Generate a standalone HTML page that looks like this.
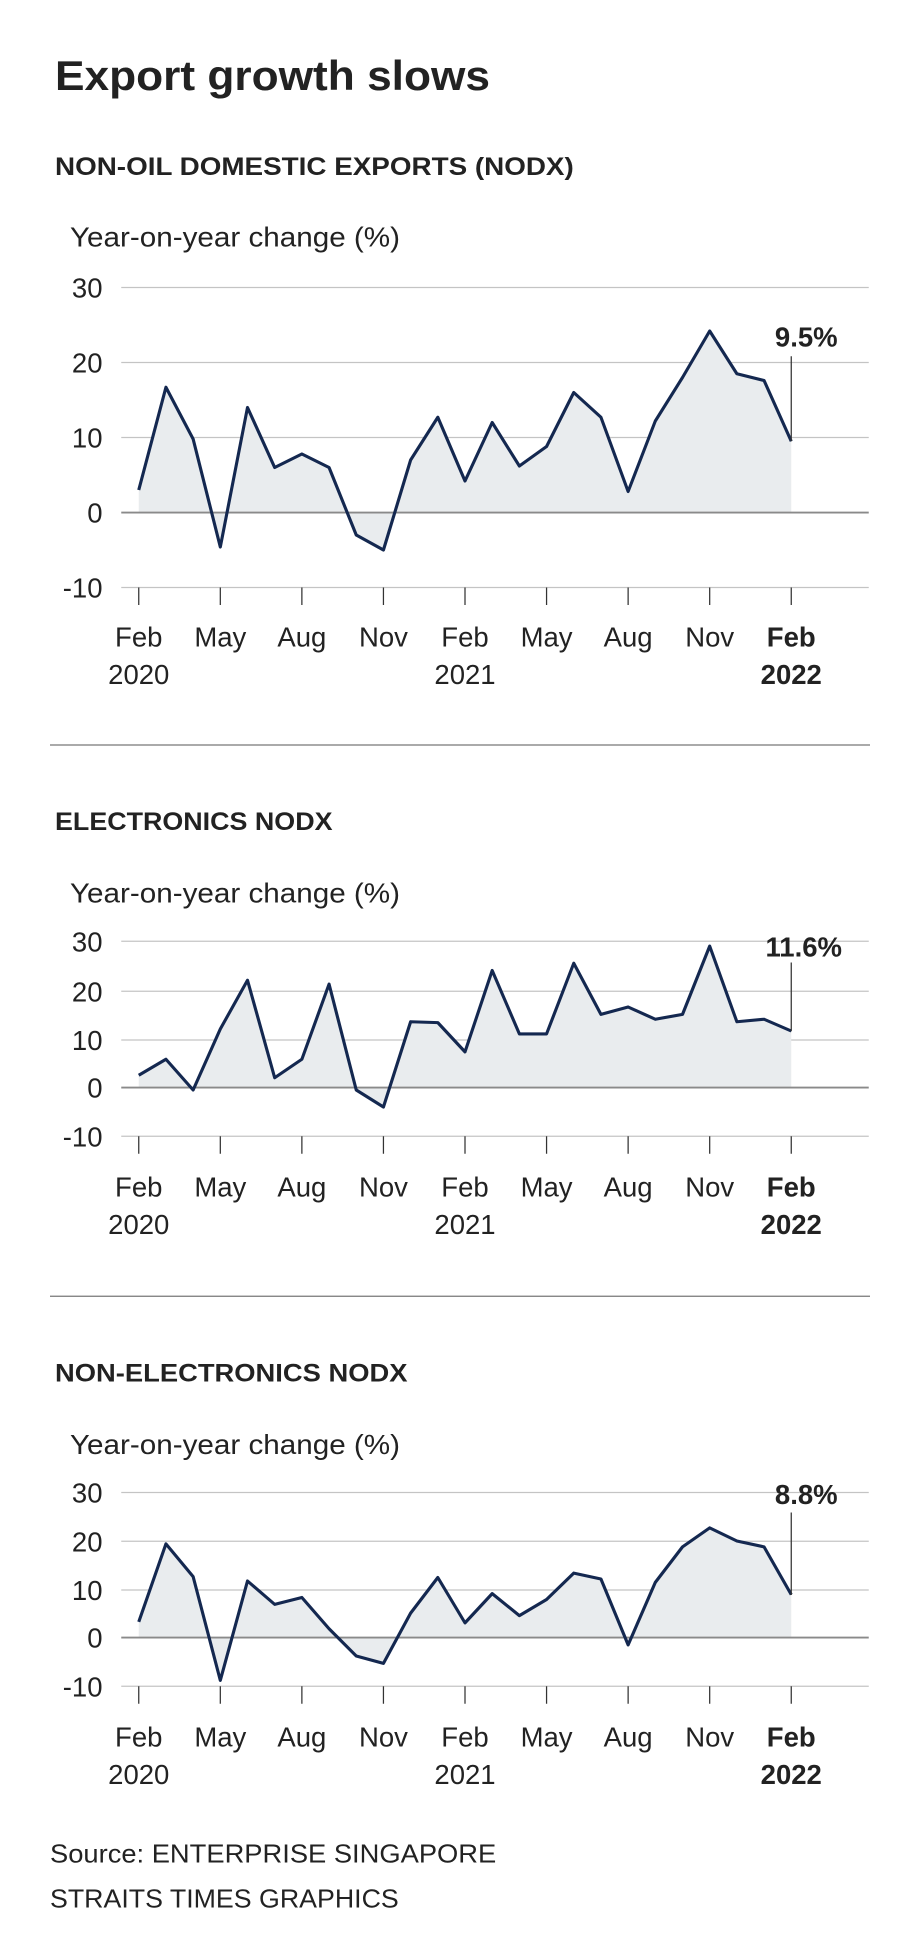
<!DOCTYPE html>
<html><head><meta charset="utf-8"><style>
html,body{margin:0;padding:0;background:#fff;}
svg{display:block;}
text{font-family:"Liberation Sans",sans-serif;fill:#222;}
</style></head><body>
<svg width="920" height="1960" viewBox="0 0 736 1568" xmlns="http://www.w3.org/2000/svg">
<rect width="736" height="1568" fill="#fff"/>
<text x="44" y="72" font-size="33" font-weight="bold" textLength="348" lengthAdjust="spacingAndGlyphs">Export growth slows</text>

<!-- Chart 1 -->
<text x="44" y="140" font-size="20" font-weight="bold" textLength="415" lengthAdjust="spacingAndGlyphs">NON-OIL DOMESTIC EXPORTS (NODX)</text>
<text x="56" y="197" font-size="22" textLength="264" lengthAdjust="spacingAndGlyphs">Year-on-year change (%)</text>
<g stroke="#c4c4c4" stroke-width="1">
<line x1="97" x2="695" y1="230" y2="230"/><line x1="97" x2="695" y1="290" y2="290"/><line x1="97" x2="695" y1="350" y2="350"/><line x1="97" x2="695" y1="470" y2="470"/>
</g>
<g font-size="22" text-anchor="end"><text x="82" y="238">30</text><text x="82" y="298">20</text><text x="82" y="358">10</text><text x="82" y="418">0</text><text x="82" y="478">-10</text></g>
<polygon fill="#e9ecee" points="111,410 111,392 132.75,309.8 154.5,351.2 176.25,437.6 198,326 219.75,374 241.5,363.2 263.25,374 285,428 306.75,440 328.5,368 350.25,333.8 372,384.8 393.75,338 415.5,372.8 437.25,357.2 459,314 480.75,333.8 502.5,393.2 524.25,336.8 546,302 567.75,264.8 589.5,299 611.25,304.4 633,353 633,410"/>
<line x1="97" x2="695" y1="410" y2="410" stroke="#8a8a8a" stroke-width="1.5"/>
<polyline fill="none" stroke="#142850" stroke-width="2.5" stroke-linejoin="round" points="111,392 132.75,309.8 154.5,351.2 176.25,437.6 198,326 219.75,374 241.5,363.2 263.25,374 285,428 306.75,440 328.5,368 350.25,333.8 372,384.8 393.75,338 415.5,372.8 437.25,357.2 459,314 480.75,333.8 502.5,393.2 524.25,336.8 546,302 567.75,264.8 589.5,299 611.25,304.4 633,353"/>
<line x1="633" x2="633" y1="353" y2="285" stroke="#333" stroke-width="1"/>
<text x="645" y="277" font-size="22" font-weight="bold" text-anchor="middle">9.5%</text>
<g stroke="#333" stroke-width="1"><line x1="111" x2="111" y1="470" y2="484"/><line x1="176.25" x2="176.25" y1="470" y2="484"/><line x1="241.5" x2="241.5" y1="470" y2="484"/><line x1="306.75" x2="306.75" y1="470" y2="484"/><line x1="372" x2="372" y1="470" y2="484"/><line x1="437.25" x2="437.25" y1="470" y2="484"/><line x1="502.5" x2="502.5" y1="470" y2="484"/><line x1="567.75" x2="567.75" y1="470" y2="484"/><line x1="633" x2="633" y1="470" y2="484"/></g>
<g font-size="22" text-anchor="middle"><text x="111" y="517">Feb</text><text x="111" y="547">2020</text><text x="176.25" y="517">May</text><text x="241.5" y="517">Aug</text><text x="306.75" y="517">Nov</text><text x="372" y="517">Feb</text><text x="372" y="547">2021</text><text x="437.25" y="517">May</text><text x="502.5" y="517">Aug</text><text x="567.75" y="517">Nov</text><text x="633" y="517" font-weight="bold">Feb</text><text x="633" y="547" font-weight="bold">2022</text></g>
<line x1="40" x2="696" y1="596" y2="596" stroke="#777" stroke-width="1"/>

<!-- Chart 2 -->
<text x="44" y="664" font-size="20" font-weight="bold" textLength="222" lengthAdjust="spacingAndGlyphs">ELECTRONICS NODX</text>
<text x="56" y="722" font-size="22" textLength="264" lengthAdjust="spacingAndGlyphs">Year-on-year change (%)</text>
<g stroke="#c4c4c4" stroke-width="1">
<line x1="97" x2="695" y1="753" y2="753"/><line x1="97" x2="695" y1="793" y2="793"/><line x1="97" x2="695" y1="832" y2="832"/><line x1="97" x2="695" y1="909" y2="909"/>
</g>
<g font-size="22" text-anchor="end"><text x="82" y="761">30</text><text x="82" y="801">20</text><text x="82" y="840">10</text><text x="82" y="878">0</text><text x="82" y="917">-10</text></g>
<polygon fill="#e9ecee" points="111,870 111,860.2 132.75,847.4 154.5,872 176.25,823.2 198,784.2 219.75,862.2 241.5,847.4 263.25,787.3 285,872 306.75,885.6 328.5,817.4 350.25,818.1 372,841.5 393.75,776.4 415.5,827.1 437.25,827.1 459,770.6 480.75,811.5 502.5,805.6 524.25,815.4 546,811.5 567.75,756.9 589.5,817.4 611.25,815.4 633,824.8 633,870"/>
<line x1="97" x2="695" y1="870" y2="870" stroke="#8a8a8a" stroke-width="1.5"/>
<polyline fill="none" stroke="#142850" stroke-width="2.5" stroke-linejoin="round" points="111,860.2 132.75,847.4 154.5,872 176.25,823.2 198,784.2 219.75,862.2 241.5,847.4 263.25,787.3 285,872 306.75,885.6 328.5,817.4 350.25,818.1 372,841.5 393.75,776.4 415.5,827.1 437.25,827.1 459,770.6 480.75,811.5 502.5,805.6 524.25,815.4 546,811.5 567.75,756.9 589.5,817.4 611.25,815.4 633,824.8"/>
<line x1="633" x2="633" y1="825" y2="770" stroke="#333" stroke-width="1"/>
<text x="643" y="765" font-size="22" font-weight="bold" text-anchor="middle">11.6%</text>
<g stroke="#333" stroke-width="1"><line x1="111" x2="111" y1="909" y2="923"/><line x1="176.25" x2="176.25" y1="909" y2="923"/><line x1="241.5" x2="241.5" y1="909" y2="923"/><line x1="306.75" x2="306.75" y1="909" y2="923"/><line x1="372" x2="372" y1="909" y2="923"/><line x1="437.25" x2="437.25" y1="909" y2="923"/><line x1="502.5" x2="502.5" y1="909" y2="923"/><line x1="567.75" x2="567.75" y1="909" y2="923"/><line x1="633" x2="633" y1="909" y2="923"/></g>
<g font-size="22" text-anchor="middle"><text x="111" y="957">Feb</text><text x="111" y="987">2020</text><text x="176.25" y="957">May</text><text x="241.5" y="957">Aug</text><text x="306.75" y="957">Nov</text><text x="372" y="957">Feb</text><text x="372" y="987">2021</text><text x="437.25" y="957">May</text><text x="502.5" y="957">Aug</text><text x="567.75" y="957">Nov</text><text x="633" y="957" font-weight="bold">Feb</text><text x="633" y="987" font-weight="bold">2022</text></g>
<line x1="40" x2="696" y1="1037" y2="1037" stroke="#777" stroke-width="1"/>

<!-- Chart 3 -->
<text x="44" y="1105" font-size="20" font-weight="bold" textLength="282" lengthAdjust="spacingAndGlyphs">NON-ELECTRONICS NODX</text>
<text x="56" y="1163" font-size="22" textLength="264" lengthAdjust="spacingAndGlyphs">Year-on-year change (%)</text>
<g stroke="#c4c4c4" stroke-width="1">
<line x1="97" x2="695" y1="1194" y2="1194"/><line x1="97" x2="695" y1="1233" y2="1233"/><line x1="97" x2="695" y1="1272" y2="1272"/><line x1="97" x2="695" y1="1349" y2="1349"/>
</g>
<g font-size="22" text-anchor="end"><text x="82" y="1202">30</text><text x="82" y="1241">20</text><text x="82" y="1280">10</text><text x="82" y="1318">0</text><text x="82" y="1357">-10</text></g>
<polygon fill="#e9ecee" points="111,1310 111,1297.5 132.75,1235.1 154.5,1261.3 176.25,1344.3 198,1264.8 219.75,1283.5 241.5,1278 263.25,1303 285,1324.8 306.75,1330.7 328.5,1290.5 350.25,1262 372,1298.3 393.75,1274.9 415.5,1292.5 437.25,1279.6 459,1258.5 480.75,1263.2 502.5,1315.9 524.25,1265.9 546,1237.5 567.75,1222.3 589.5,1232.8 611.25,1237.5 633,1275.7 633,1310"/>
<line x1="97" x2="695" y1="1310" y2="1310" stroke="#8a8a8a" stroke-width="1.5"/>
<polyline fill="none" stroke="#142850" stroke-width="2.5" stroke-linejoin="round" points="111,1297.5 132.75,1235.1 154.5,1261.3 176.25,1344.3 198,1264.8 219.75,1283.5 241.5,1278 263.25,1303 285,1324.8 306.75,1330.7 328.5,1290.5 350.25,1262 372,1298.3 393.75,1274.9 415.5,1292.5 437.25,1279.6 459,1258.5 480.75,1263.2 502.5,1315.9 524.25,1265.9 546,1237.5 567.75,1222.3 589.5,1232.8 611.25,1237.5 633,1275.7"/>
<line x1="633" x2="633" y1="1276" y2="1210" stroke="#333" stroke-width="1"/>
<text x="645" y="1203" font-size="22" font-weight="bold" text-anchor="middle">8.8%</text>
<g stroke="#333" stroke-width="1"><line x1="111" x2="111" y1="1349" y2="1363"/><line x1="176.25" x2="176.25" y1="1349" y2="1363"/><line x1="241.5" x2="241.5" y1="1349" y2="1363"/><line x1="306.75" x2="306.75" y1="1349" y2="1363"/><line x1="372" x2="372" y1="1349" y2="1363"/><line x1="437.25" x2="437.25" y1="1349" y2="1363"/><line x1="502.5" x2="502.5" y1="1349" y2="1363"/><line x1="567.75" x2="567.75" y1="1349" y2="1363"/><line x1="633" x2="633" y1="1349" y2="1363"/></g>
<g font-size="22" text-anchor="middle"><text x="111" y="1397">Feb</text><text x="111" y="1427">2020</text><text x="176.25" y="1397">May</text><text x="241.5" y="1397">Aug</text><text x="306.75" y="1397">Nov</text><text x="372" y="1397">Feb</text><text x="372" y="1427">2021</text><text x="437.25" y="1397">May</text><text x="502.5" y="1397">Aug</text><text x="567.75" y="1397">Nov</text><text x="633" y="1397" font-weight="bold">Feb</text><text x="633" y="1427" font-weight="bold">2022</text></g>

<text x="40" y="1490" font-size="21" textLength="357" lengthAdjust="spacingAndGlyphs">Source: ENTERPRISE SINGAPORE</text>
<text x="40" y="1526" font-size="21" textLength="279" lengthAdjust="spacingAndGlyphs">STRAITS TIMES GRAPHICS</text>
</svg>
</body></html>
